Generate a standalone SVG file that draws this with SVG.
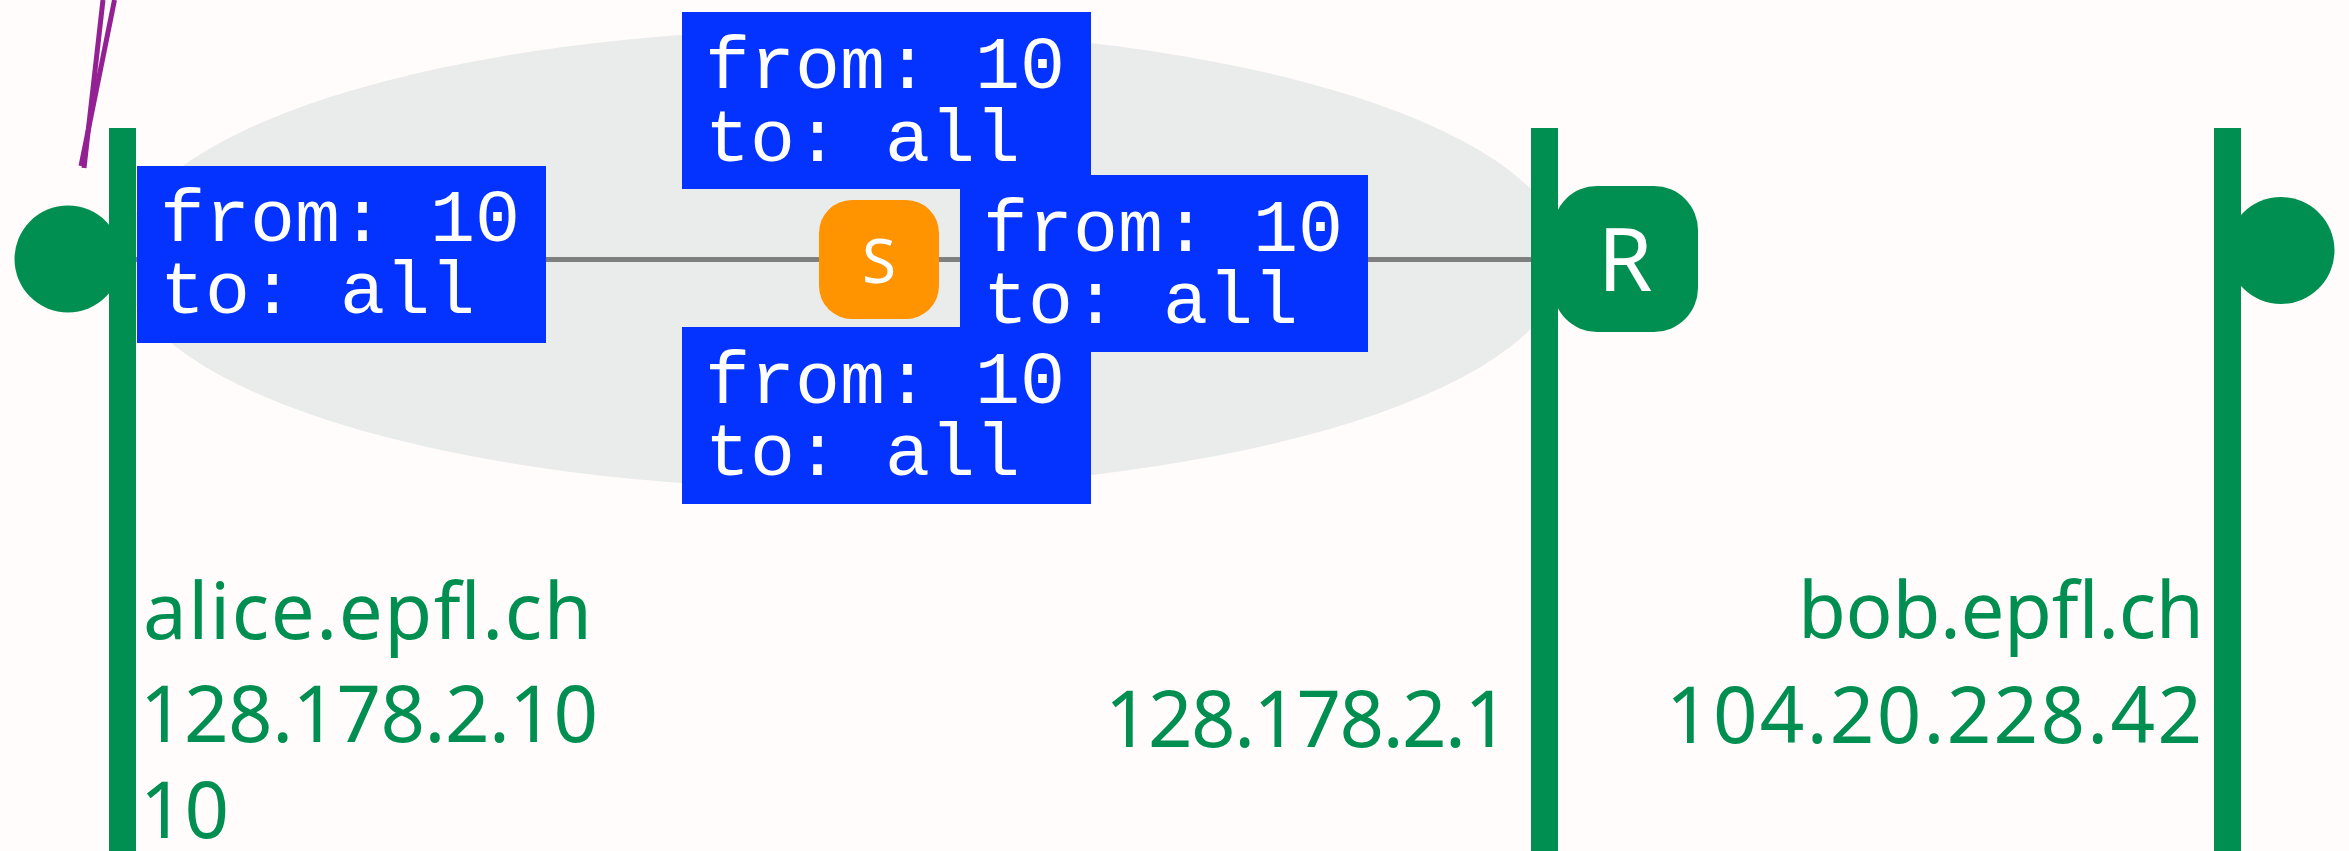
<svg xmlns="http://www.w3.org/2000/svg" width="2349" height="851" viewBox="0 0 2349 851">
<style>
.bg{fill:#FFFCFB}
.cloud{fill:#EAEBEB}
.bar{fill:#008F51}
.host{fill:#008F51}
.pkt{fill:#0433FF}
.pkt-t{font-family:"Liberation Mono","Courier New",monospace;font-size:75px;fill:#FFFFFF}
.lbl{font-family:"Noto Sans","DejaVu Sans",sans-serif;font-size:78px;fill:#008F51}
.node-t{font-family:"Noto Sans","DejaVu Sans",sans-serif;fill:#FFFFFF;text-anchor:middle}
.wire{stroke:#7F7F7F;stroke-width:5;fill:none}
.ptr{stroke:#942193;stroke-width:5;fill:none;stroke-linecap:butt}
</style>
<rect class="bg" x="0" y="0" width="2349" height="851"/>
<ellipse id="lan" class="cloud" cx="843" cy="259" rx="722" ry="230"/>
<g id="connectors">
  <line class="wire" x1="136" y1="259.5" x2="1531" y2="259.5"/>
  <line class="ptr" x1="103" y1="0" x2="84" y2="168"/>
  <line class="ptr" x1="114.5" y1="0" x2="81" y2="166"/>
</g>
<g id="alice">
  <circle class="host" cx="68" cy="259" r="53.5"/>
  <rect class="bar" x="109" y="128" width="27" height="723"/>
  <text class="lbl" x="143" y="639" textLength="449">alice.epfl.ch</text>
  <text class="lbl" x="140" y="742" textLength="458">128.178.2.10</text>
  <text class="lbl" x="140" y="838">10</text>
</g>
<g id="router">
  <rect class="bar" x="1531" y="128" width="27" height="723"/>
  <rect class="host" x="1553" y="186" width="145" height="146" rx="44" ry="44"/>
  <text class="node-t" x="1625" y="291" font-size="88">R</text>
  <text class="lbl" x="1509" y="747" text-anchor="end" textLength="404">128.178.2.1</text>
</g>
<g id="bob">
  <rect class="bar" x="2214" y="128" width="27" height="723"/>
  <circle class="host" cx="2281" cy="250.5" r="53.5"/>
  <text class="lbl" x="2204" y="638" text-anchor="end" textLength="406">bob.epfl.ch</text>
  <text class="lbl" x="2202" y="743" text-anchor="end" textLength="536">104.20.228.42</text>
</g>
<g id="pkt-left">
  <rect class="pkt" x="137" y="166" width="409" height="177"/>
  <text class="pkt-t" x="160" y="240.5">from: 10<tspan x="160" dy="72.5">to: all</tspan></text>
</g>
<g id="pkt-top">
  <rect class="pkt" x="682" y="12" width="409" height="177"/>
  <text class="pkt-t" x="705" y="88">from: 10<tspan x="705" dy="73">to: all</tspan></text>
</g>
<g id="pkt-right">
  <rect class="pkt" x="960" y="175" width="408" height="177"/>
  <text class="pkt-t" x="983" y="251">from: 10<tspan x="983" dy="72">to: all</tspan></text>
</g>
<g id="pkt-bottom">
  <rect class="pkt" x="682" y="327" width="409" height="177"/>
  <text class="pkt-t" x="705" y="403">from: 10<tspan x="705" dy="72">to: all</tspan></text>
</g>
<g id="switch">
  <rect x="819" y="200" width="120" height="119" rx="33" ry="33" fill="#FF9300"/>
  <text class="node-t" x="879" y="283" font-size="62">S</text>
</g>
</svg>
